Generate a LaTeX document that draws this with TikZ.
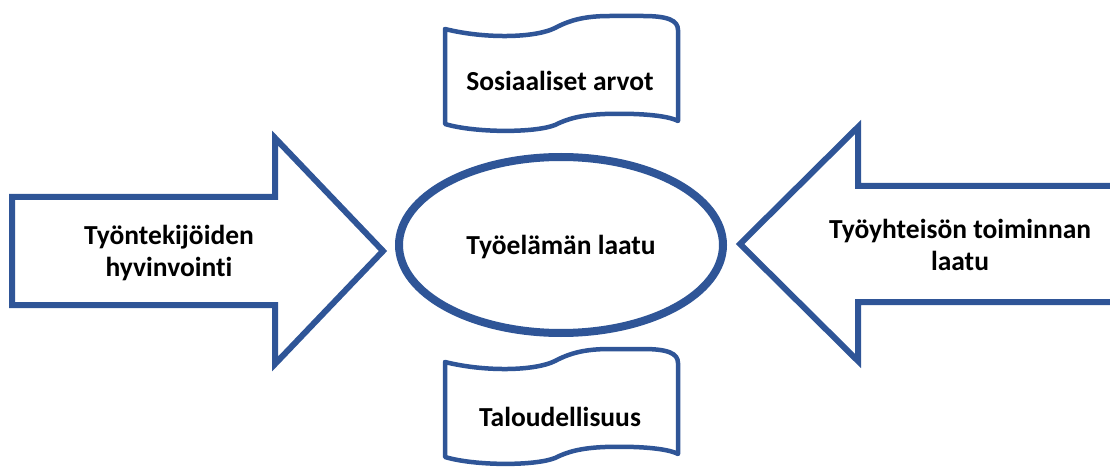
\documentclass[tikz,border=0pt]{standalone}
\usepackage{fontspec}
\setmainfont[Ligatures=NoCommon]{Carlito}
\definecolor{edgeblue}{HTML}{2F5597}
\tikzset{
  arrowshape/.style={draw=edgeblue, line width=6pt, line join=miter, fill=white},
  ovalshape/.style={draw=edgeblue, line width=8pt, fill=white},
  scrollshape/.style={draw=edgeblue, line width=4.5pt, line join=round, fill=white},
  lbl/.style={font=\bfseries\fontsize{27.5}{32}\selectfont, align=center, inner sep=0pt, text=black}
}
\newcommand{\scrollpath}[2]{%
  \path[scrollshape, shift={(#1,#2)}]
    (0,0) .. controls (40,10) and (90,9) .. (110,-1)
    .. controls (125,-9) and (140,-13) .. (165,-13)
    -- (198,-13) .. controls (222,-13) and (233,-9) .. (233,1)
    -- (233,92)
    .. controls (222,86) and (190,84) .. (160,85)
    .. controls (135,86) and (122,90) .. (110,96)
    .. controls (90,104) and (30,104) .. (0,95) -- cycle;}
\begin{document}
\begin{tikzpicture}[x=1pt,y=-1pt]
\useasboundingbox (0,0) rectangle (1110,470);
\clip (0,0) rectangle (1110,470);
% left arrow
\path[arrowshape] (12,197) -- (275,197) -- (275,138) -- (383,251) -- (275,364) -- (275,305) -- (12,305) -- cycle;
% right arrow
\path[arrowshape] (1120,186) -- (858,186) -- (858,127) -- (740,244) -- (858,361) -- (858,302) -- (1120,302);
% ellipse
\path[ovalshape] (561,245) ellipse [x radius=162, y radius=88];
% scrolls
\scrollpath{445}{29}
\scrollpath{445}{362}
% labels
\node[lbl] (left) at (169,253) {Työntekijöiden\\hyvinvointi};
\node[lbl] (right) at (960,245) {Työyhteisön toiminnan\\laatu};
\node[lbl] (center) at (561,247) {Työelämän laatu};
\node[lbl] (top) at (560,81) {Sosiaaliset arvot};
\node[lbl] (bottom) at (560,417) {Taloudellisuus};
\end{tikzpicture}
\end{document}
